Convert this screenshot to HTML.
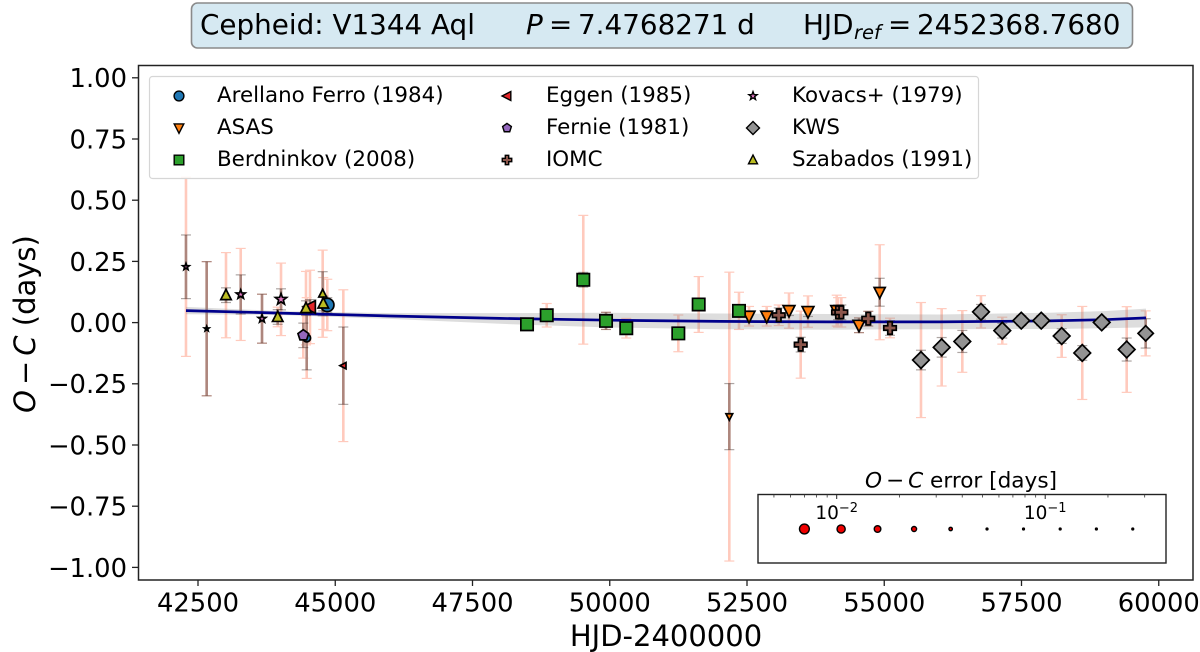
<!DOCTYPE html>
<html lang="en">
<head>
<meta charset="utf-8">
<title>Cepheid V1344 Aql O-C diagram</title>
<style>
html,body{margin:0;padding:0;background:#fff;}
svg{display:block;}
text{font-family:"DejaVu Sans","Liberation Sans",sans-serif;fill:#000;}
</style>
</head>
<body>
<svg id="chart" xmlns="http://www.w3.org/2000/svg" width="1200" height="652" viewBox="0 0 1200 652">
  <rect x="0" y="0" width="1200" height="652" fill="#fff"/>
  <g id="title-box">
    <rect x="191.5" y="3" width="941" height="45" rx="6" fill="#d6e9f2" stroke="#8a8a8a" stroke-width="1.6"/>
    <text x="200" y="34" font-size="27.8">Cepheid: V1344 Aql</text>
    <text y="34" font-size="27.8"><tspan x="526" font-style="italic">P</tspan><tspan x="549">=</tspan><tspan x="578">7.4768271 d</tspan></text>
    <text y="34" font-size="27.8"><tspan x="803">HJD</tspan><tspan x="854" font-style="italic" font-size="19.5" dy="5">ref</tspan><tspan x="888" dy="-5">=</tspan><tspan x="917">2452368.7680</tspan></text>
  </g>
  <g id="plot-marks"></g>
  <rect x="138.5" y="65.5" width="1054.5" height="514.5" fill="none" stroke="#222" stroke-width="1.5"/>
  <g id="x-ticks"></g>
  <g id="y-ticks"></g>
  <text x="666" y="646" font-size="29" text-anchor="middle">HJD-2400000</text>
  <text transform="translate(35 324) rotate(-90)" font-size="29" text-anchor="middle"><tspan font-style="italic">O</tspan><tspan dx="5">−</tspan><tspan dx="5" font-style="italic">C</tspan> (days)</text>
  <g id="legend">
    <rect x="149.5" y="76.5" width="829" height="102" rx="3" fill="#fff" fill-opacity="0.85" stroke="#d6d6d6" stroke-width="1.2"/>
    <text x="217" y="102" font-size="21.4">Arellano Ferro (1984)</text>
    <text x="217" y="134" font-size="21.4">ASAS</text>
    <text x="217" y="166" font-size="21.4">Berdninkov (2008)</text>
    <text x="546" y="102" font-size="21.4">Eggen (1985)</text>
    <text x="546" y="134" font-size="21.4">Fernie (1981)</text>
    <text x="546" y="166" font-size="21.4">IOMC</text>
    <text x="792" y="102" font-size="21.4">Kovacs+ (1979)</text>
    <text x="792" y="134" font-size="21.4">KWS</text>
    <text x="792" y="166" font-size="21.4">Szabados (1991)</text>
  </g>
  <g id="inset">
    <text x="961" y="487.5" font-size="21.6" text-anchor="middle"><tspan font-style="italic">O</tspan><tspan dx="4">−</tspan><tspan dx="4" font-style="italic">C</tspan> error [days]</text>
    <rect x="758" y="494.5" width="408" height="68.5" fill="#fff" stroke="#222" stroke-width="1.4"/>
  </g>
</svg>
<script>
const xTicks = [42500, 45000, 47500, 50000, 52500, 55000, 57500, 60000];
const yTicks = [1.00, 0.75, 0.50, 0.25, 0.00, -0.25, -0.50, -0.75, -1.00];

const arellanoX = [44855, 44480];
const arellanoY = [0.072, -0.063];
const arellanoInner = [0.03, 0.13];
const arellanoOuter = [0.105, 0.165];

const asasX = [52178, 52537, 52859, 53265, 53611, 54134, 54540, 54917];
const asasY = [-0.384, 0.026, 0.026, 0.049, 0.045, 0.049, -0.011, 0.124];
const asasInner = [0.135, 0.02, 0.02, 0.02, 0.02, 0.02, 0.03, 0.057];
const asasOuter = [0.59, 0.04, 0.04, 0.072, 0.064, 0.063, 0.03, 0.194];

const berdnikovX = [48493, 48852, 49518, 49932, 50301, 51249, 51620, 52354];
const berdnikovY = [-0.007, 0.03, 0.175, 0.007, -0.023, -0.044, 0.074, 0.048];
const berdnikovInner = [0.01, 0.02, 0.03, 0.035, 0.02, 0.02, 0.02, 0.02];
const berdnikovOuter = [0.01, 0.048, 0.263, 0.035, 0.04, 0.075, 0.114, 0.076];

const eggenX = [44540, 45147];
const eggenY = [0.064, -0.176];
const eggenInner = [0.03, 0.158];
const eggenOuter = [0.15, 0.31];

const fernieX = [44418];
const fernieY = [-0.052];
const fernieInner = [0.05];
const fernieOuter = [0.093];

const iomcX = [53078, 53478, 54158, 54218, 54709, 55105];
const iomcY = [0.03, -0.09, 0.042, 0.042, 0.016, -0.022];
const iomcInner = [0.03, 0.03, 0.03, 0.03, 0.03, 0.03];
const iomcOuter = [0.042, 0.137, 0.06, 0.06, 0.03, 0.04];

const kovacsX = [42281, 42658, 43278, 43666, 44012];
const kovacsY = [0.228, -0.025, 0.115, 0.016, 0.095];
const kovacsInner = [0.13, 0.274, 0.08, 0.1, 0.043];
const kovacsOuter = [0.366, 0.274, 0.188, 0.1, 0.148];

const kwsX = [55669, 56046, 56422, 56762, 57150, 57496, 57860, 58232, 58607, 58961, 59416, 59762];
const kwsY = [-0.153, -0.101, -0.077, 0.044, -0.033, 0.008, 0.008, -0.055, -0.124, 0.001, -0.11, -0.044];
const kwsInner = [0.04, 0.04, 0.045, 0.03, 0.03, 0.02, 0.02, 0.03, 0.03, 0.02, 0.047, 0.06];
const kwsOuter = [0.235, 0.158, 0.126, 0.066, 0.055, 0.02, 0.02, 0.087, 0.19, 0.02, 0.175, 0.092];

const szabadosX = [43010, 43952, 44467, 44771, 44782];
const szabadosY = [0.112, 0.023, 0.059, 0.118, 0.078];
const szabadosInner = [0.03, 0.03, 0.03, 0.09, 0.03];
const szabadosOuter = [0.174, 0.04, 0.15, 0.178, 0.106];

const fitX = [42281, 44000, 46000, 48000, 50000, 52000, 54000, 56000, 58000, 59000, 59768];
const fitY = [0.049, 0.039, 0.027, 0.017, 0.010, 0.005, 0.003, 0.003, 0.007, 0.012, 0.019];
const fitHigh = [0.064, 0.047, 0.039, 0.039, 0.040, 0.037, 0.035, 0.033, 0.040, 0.047, 0.057];
const fitLow = [0.034, 0.031, 0.015, -0.005, -0.020, -0.027, -0.029, -0.027, -0.026, -0.023, -0.019];

const keyErrors = [0.0070, 0.0105, 0.0157, 0.0235, 0.0352, 0.0526, 0.0787, 0.118, 0.176, 0.263];
const keyMajorTicks = [0.01, 0.1];
const keyMinorTicks = [0.005, 0.006, 0.007, 0.008, 0.009, 0.02, 0.03, 0.04, 0.05, 0.06, 0.07, 0.08, 0.09, 0.2, 0.3];

const NS = 'http://www.w3.org/2000/svg';
const xPx = v => 198 + (v - 42500) * 0.0549;
const yPx = v => 322.6 - v * 244.8;
const keyPx = e => 836.7 + 208.5 * (Math.log10(e) + 2);

function make(tag, attrs, parent) {
  const el = document.createElementNS(NS, tag);
  for (const k in attrs) el.setAttribute(k, attrs[k]);
  parent.appendChild(el);
  return el;
}

function shapeEl(shape, cx, cy, s, fill, strokeWidth, parent) {
  const style = {fill: fill, stroke: '#000', 'stroke-width': strokeWidth, 'stroke-linejoin': 'miter'};
  let pts = [];
  if (shape === 'circle') {
    return make('circle', Object.assign({cx: cx, cy: cy, r: s}, style), parent);
  }
  if (shape === 'v') pts = [[-s, -s * 0.85], [s, -s * 0.85], [0, s * 1.1]];
  if (shape === '^') pts = [[-s, s * 0.85], [s, s * 0.85], [0, -s * 1.1]];
  if (shape === '<') pts = [[s * 0.85, -s], [s * 0.85, s], [-s * 1.1, 0]];
  if (shape === 's') pts = [[-s, -s], [s, -s], [s, s], [-s, s]];
  if (shape === 'D') pts = [[0, -s * 1.25], [s * 1.25, 0], [0, s * 1.25], [-s * 1.25, 0]];
  if (shape === 'P') {
    const a = s * 1.05, b = s * 0.38;
    pts = [[-b, -a], [b, -a], [b, -b], [a, -b], [a, b], [b, b], [b, a], [-b, a], [-b, b], [-a, b], [-a, -b], [-b, -b]];
  }
  if (shape === 'p') {
    for (let i = 0; i < 5; i++) {
      const t = -Math.PI / 2 + i * 2 * Math.PI / 5;
      pts.push([s * 1.1 * Math.cos(t), s * 1.1 * Math.sin(t)]);
    }
  }
  if (shape === '*') {
    for (let i = 0; i < 10; i++) {
      const t = -Math.PI / 2 + i * Math.PI / 5;
      const r = i % 2 ? s * 0.5 : s * 1.2;
      pts.push([r * Math.cos(t), r * Math.sin(t)]);
    }
  }
  return make('polygon', Object.assign({points: pts.map(p => (cx + p[0]).toFixed(2) + ',' + (cy + p[1]).toFixed(2)).join(' ')}, style), parent);
}

function markerSize(innerErr) {
  const s = 7 - 7 * (Math.log10(Math.max(innerErr, 0.05)) + 1.3);
  return Math.max(3, s);
}

function bar(x, y, err, color, parent) {
  const px = xPx(x), top = yPx(y + err), bottom = yPx(y - err);
  const g = make('g', {stroke: color, 'stroke-width': 2, fill: 'none'}, parent);
  make('line', {x1: px, x2: px, y1: top, y2: bottom, 'stroke-width': 2.6}, g);
  make('line', {x1: px - 5, x2: px + 5, y1: top, y2: top, 'stroke-width': 1.2}, g);
  make('line', {x1: px - 5, x2: px + 5, y1: bottom, y2: bottom, 'stroke-width': 1.2}, g);
  return g;
}

const series = [
  {name: 'arellano', x: arellanoX, y: arellanoY, inner: arellanoInner, outer: arellanoOuter, shape: 'circle', fill: '#1f77b4', boost: 0.95},
  {name: 'asas', x: asasX, y: asasY, inner: asasInner, outer: asasOuter, shape: 'v', fill: '#ff7f0e', boost: 0.84},
  {name: 'berdnikov', x: berdnikovX, y: berdnikovY, inner: berdnikovInner, outer: berdnikovOuter, shape: 's', fill: '#2ca02c', boost: 0.88},
  {name: 'eggen', x: eggenX, y: eggenY, inner: eggenInner, outer: eggenOuter, shape: '<', fill: '#e3262a', boost: 0.9},
  {name: 'fernie', x: fernieX, y: fernieY, inner: fernieInner, outer: fernieOuter, shape: 'p', fill: '#9467bd', boost: 0.73},
  {name: 'iomc', x: iomcX, y: iomcY, inner: iomcInner, outer: iomcOuter, shape: 'P', fill: '#8c564b', boost: 0.85},
  {name: 'kovacs', x: kovacsX, y: kovacsY, inner: kovacsInner, outer: kovacsOuter, shape: '*', fill: '#e377c2', boost: 0.7},
  {name: 'kws', x: kwsX, y: kwsY, inner: kwsInner, outer: kwsOuter, shape: 'D', fill: '#939393', boost: 0.95},
  {name: 'szabados', x: szabadosX, y: szabadosY, inner: szabadosInner, outer: szabadosOuter, shape: '^', fill: '#bcbd22', boost: 0.75}
];

const marks = document.getElementById('plot-marks');

series.forEach(s => {
  s.x.forEach((x, i) => {
    const g = bar(x, s.y[i], s.outer[i], '#ffcabd', marks);
    
    
  });
});
series.forEach(s => {
  s.x.forEach((x, i) => {
    const g = bar(x, s.y[i], s.inner[i], 'rgba(60,40,35,0.42)', marks);
    
    
  });
});

const upper = fitX.map((x, i) => xPx(x).toFixed(1) + ',' + yPx(fitHigh[i]).toFixed(1));
const lower = fitX.map((x, i) => xPx(x).toFixed(1) + ',' + yPx(fitLow[i]).toFixed(1)).reverse();
const band = make('polygon', {points: upper.concat(lower).join(' '), fill: '#808080', 'fill-opacity': 0.27}, marks);



const fitLine = make('polyline', {points: fitX.map((x, i) => xPx(x).toFixed(1) + ',' + yPx(fitY[i]).toFixed(1)).join(' '), fill: 'none', stroke: '#00008b', 'stroke-width': 2.7}, marks);



series.forEach(s => {
  s.x.forEach((x, i) => {
    const size = markerSize(s.inner[i]) * s.boost;
    const m = shapeEl(s.shape, xPx(x), yPx(s.y[i]), size, s.fill, 1.7, marks);
    
    
  });
});

const xg = document.getElementById('x-ticks');
xTicks.forEach(t => {
  const px = xPx(t);
  const tick = make('line', {x1: px, x2: px, y1: 580, y2: 586, stroke: '#222', 'stroke-width': 1.3}, xg);
  
  
  const label = make('text', {x: px, y: 611.5, 'font-size': 25.8, 'text-anchor': 'middle'}, xg);
  
  
  label.textContent = String(t);
});

const yg = document.getElementById('y-ticks');
yTicks.forEach(t => {
  const py = yPx(t);
  const tick = make('line', {x1: 132, x2: 138, y1: py, y2: py, stroke: '#222', 'stroke-width': 1.3}, yg);
  
  
  const label = make('text', {x: 127, y: py + 9.4, 'font-size': 25.8, 'text-anchor': 'end'}, yg);
  
  
  label.textContent = (t < 0 ? '\u2212' : '') + Math.abs(t).toFixed(2);
});

const legendMarkers = [
  ['circle', 179, 96, 4.9, '#1f77b4'],
  ['v', 179, 128, 4.8, '#ff7f0e'],
  ['s', 179, 160, 4.8, '#2ca02c'],
  ['<', 507, 96, 4.5, '#e3262a'],
  ['p', 507, 128, 4.2, '#9467bd'],
  ['P', 507, 160, 4.5, '#8c564b'],
  ['*', 753, 96, 3.6, '#e377c2'],
  ['D', 753, 128, 5.2, '#939393'],
  ['^', 753, 160, 4.5, '#bcbd22']
];
const lg = document.getElementById('legend');
legendMarkers.forEach(m => {
  const el = shapeEl(m[0], m[1], m[2], m[3], m[4], 1.4, lg);
  
  
});

const inset = document.getElementById('inset');
keyMajorTicks.forEach(t => {
  const px = keyPx(t);
  const tick = make('line', {x1: px, x2: px, y1: 494.5, y2: 499, stroke: '#222', 'stroke-width': 1}, inset);
  
  
  const label = make('text', {x: px, y: 519, 'font-size': 18.5, 'text-anchor': 'middle'}, inset);
  
  
  const base = make('tspan', {}, label);
  base.textContent = '10';
  const sup = make('tspan', {dy: -7, 'font-size': 13}, label);
  sup.textContent = '\u2212' + String(Math.round(-Math.log10(t)));
});
keyMinorTicks.forEach(t => {
  const px = keyPx(t);
  const tick = make('line', {x1: px, x2: px, y1: 494.5, y2: 497.5, stroke: '#333', 'stroke-width': 0.8}, inset);
  
  
});
keyErrors.forEach(e => {
  const r = Math.max(0.9, 4.9 - 4.55 * (Math.log10(e) + 2.155));
  const dot = make('circle', {cx: keyPx(e), cy: 529, r: r, fill: '#f00000', stroke: '#000', 'stroke-width': 1.4}, inset);
  
  
});
</script>
</body>
</html>
